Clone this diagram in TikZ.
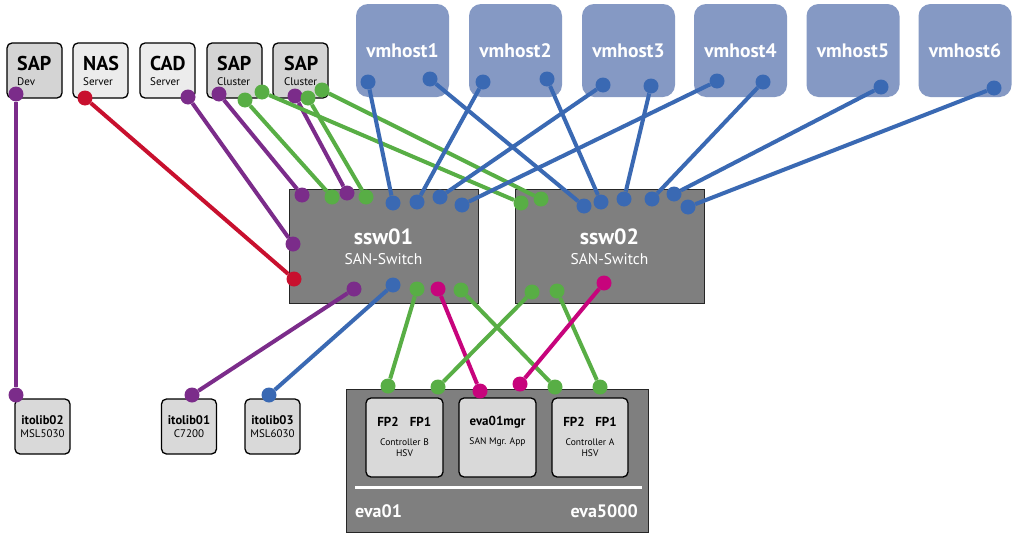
\documentclass[tikz,border=0pt]{standalone}
\usepackage{fontspec}
\setmainfont{PT Sans}
\definecolor{vmblue}{HTML}{8599C4}
\definecolor{swgrey}{HTML}{7F7F7F}
\definecolor{sapgrey}{HTML}{D4D4D4}
\definecolor{srvgrey}{HTML}{ECECEC}
\definecolor{libgrey}{HTML}{D9D9D9}
\definecolor{cpurple}{HTML}{7B2C8A}
\definecolor{cred}{HTML}{C8102E}
\definecolor{cgreen}{HTML}{58AE45}
\definecolor{cblue}{HTML}{3A69B3}
\definecolor{cmag}{HTML}{C7047C}
\begin{document}
\begin{tikzpicture}[x=1pt,y=-1pt,
  smallbox/.style={draw=black, line width=1.3pt, rounded corners=5pt, fill=#1, minimum width=55pt, minimum height=55pt, inner sep=0pt},
  vmbox/.style={fill=vmblue, rounded corners=12pt, minimum width=93pt, minimum height=93pt, inner sep=0pt, text=white, font=\fontsize{19.5}{21}\selectfont\bfseries},
  switchbox/.style={draw=black!85, line width=1pt, fill=swgrey, inner sep=0pt},
  dot/.style={circle, fill=#1, minimum size=15pt, inner sep=0pt},
  wire/.style={line width=4pt, draw=#1},
  bigtxt/.style={font=\fontsize{20}{22}\selectfont\bfseries, inner sep=0pt, anchor=base west},
  subtxt/.style={font=\fontsize{11}{12}\selectfont, inner sep=0pt, anchor=base west},
  libtitle/.style={font=\fontsize{12.5}{14}\selectfont\bfseries, inner sep=0pt},
  libsub/.style={font=\fontsize{11}{12}\selectfont, inner sep=0pt},
  evasmall/.style={font=\fontsize{9.5}{11}\selectfont, inner sep=0pt},
  evabold/.style={font=\fontsize{13}{14}\selectfont\bfseries, inner sep=0pt},
  evabig/.style={font=\fontsize{18}{20}\selectfont\bfseries, text=white, inner sep=0pt},
  swtitle/.style={font=\fontsize{22}{24}\selectfont\bfseries, text=white, inner sep=0pt},
  swsub/.style={font=\fontsize{15.5}{17}\selectfont, text=white, inner sep=0pt},
]
\useasboundingbox (0,0) rectangle (1013,533);
\fill[white] (0,0) rectangle (1013,533);

% top small boxes
\node[smallbox=sapgrey] (sapdev) at (34.5,70.5) {};
\node[smallbox=srvgrey] (nas) at (100.5,70.5) {};
\node[smallbox=srvgrey] (cad) at (167.5,70.5) {};
\node[smallbox=sapgrey] (sapc1) at (234.5,70.5) {};
\node[smallbox=sapgrey] (sapc2) at (300.5,70.5) {};
\node[bigtxt] (t1) at (17,70) {SAP};
\node[subtxt] (t1s) at (17,85) {Dev};
\node[bigtxt] (t2) at (83,70) {NAS};
\node[subtxt] (t2s) at (83,85) {Server};
\node[bigtxt] (t3) at (150,70) {CAD};
\node[subtxt] (t3s) at (150,85) {Server};
\node[bigtxt] (t4) at (217,70) {SAP};
\node[subtxt] (t4s) at (217,85) {Cluster};
\node[bigtxt] (t5) at (284,70) {SAP};
\node[subtxt] (t5s) at (284,85) {Cluster};

% vmhosts
\node[vmbox] (vm1) at (402.5,50.5) {vmhost1};
\node[vmbox] (vm2) at (515.5,50.5) {vmhost2};
\node[vmbox] (vm3) at (628.5,50.5) {vmhost3};
\node[vmbox] (vm4) at (740.5,50.5) {vmhost4};
\node[vmbox] (vm5) at (853,50.5) {vmhost5};
\node[vmbox] (vm6) at (965,50.5) {vmhost6};

% switches
\node[switchbox, minimum width=189pt, minimum height=114pt] (ssw01) at (383.5,246) {};
\node[switchbox, minimum width=189pt, minimum height=114pt] (ssw02) at (609.5,246) {};
\node[swtitle] (s1t) at (383.5,237) {ssw01};
\node[swsub] (s1s) at (383.5,259) {SAN-Switch};
\node[swtitle] (s2t) at (609.5,237) {ssw02};
\node[swsub] (s2s) at (609.5,259) {SAN-Switch};

% eva
\node[switchbox, minimum width=302pt, minimum height=143pt] (eva) at (497,460.5) {};
\node[smallbox=libgrey, minimum width=77pt, minimum height=79pt] (ctrlB) at (404.5,437.5) {};
\node[smallbox=libgrey, minimum width=77pt, minimum height=79pt] (mgr) at (497.5,437.5) {};
\node[smallbox=libgrey, minimum width=76pt, minimum height=79pt] (ctrlA) at (590,437.5) {};
\draw[white, line width=3pt] (355,487) -- (642,487);
\node[evabold] (bfp2) at (388,422) {FP2};
\node[evabold] (bfp1) at (420.5,422) {FP1};
\node[evasmall] (bc) at (404.5,442) {Controller B};
\node[evasmall] (bh) at (404.5,453) {HSV};
\node[evabold] (mt) at (497.5,422) {eva01mgr};
\node[evasmall] (ms) at (497.5,442) {SAN Mgr. App};
\node[evabold] (afp2) at (574,422) {FP2};
\node[evabold] (afp1) at (606,422) {FP1};
\node[evasmall] (ac) at (590,442) {Controller A};
\node[evasmall] (ah) at (590,453) {HSV};
\node[evabig, anchor=west] (evn) at (355,511) {eva01};
\node[evabig, anchor=east] (evt) at (638,511) {eva5000};

% itolib boxes
\node[smallbox=libgrey] (itb02) at (42.5,426.5) {};
\node[smallbox=libgrey] (itb01) at (189,426.5) {};
\node[smallbox=libgrey] (itb03) at (272.5,426.5) {};
\node[libtitle] (l2) at (42.5,420) {itolib02};
\node[libsub] (l2s) at (42.5,434) {MSL5030};
\node[libtitle] (l1) at (189,420) {itolib01};
\node[libsub] (l1s) at (189,434) {C7200};
\node[libtitle] (l3) at (272.5,420) {itolib03};
\node[libsub] (l3s) at (272.5,434) {MSL6030};

% dots: top boxes
\node[dot=cpurple] (dDev) at (16,94) {};
\node[dot=cred] (dNas) at (85,98) {};
\node[dot=cpurple] (dCad) at (188,97) {};
\node[dot=cpurple] (dC1p) at (219,94) {};
\node[dot=cgreen] (dC1g1) at (245,100) {};
\node[dot=cgreen] (dC1g2) at (262,92) {};
\node[dot=cpurple] (dC2p) at (295,96) {};
\node[dot=cgreen] (dC2g1) at (308,98) {};
\node[dot=cgreen] (dC2g2) at (322,90) {};
% dots: vmhosts
\node[dot=cblue] (v1a) at (368,82) {};
\node[dot=cblue] (v1b) at (430,79) {};
\node[dot=cblue] (v2a) at (483,82) {};
\node[dot=cblue] (v2b) at (547,79) {};
\node[dot=cblue] (v3a) at (603,85) {};
\node[dot=cblue] (v3b) at (651,86) {};
\node[dot=cblue] (v4a) at (717,81) {};
\node[dot=cblue] (v4b) at (763,82) {};
\node[dot=cblue] (v5a) at (881,87) {};
\node[dot=cblue] (v6a) at (994,88) {};
% dots: ssw01
\node[dot=cpurple] (a1) at (302,195) {};
\node[dot=cgreen] (a2) at (332,197) {};
\node[dot=cpurple] (a3) at (347,193) {};
\node[dot=cgreen] (a4) at (366,197) {};
\node[dot=cblue] (a5) at (393,203) {};
\node[dot=cblue] (a6) at (417,202) {};
\node[dot=cblue] (a7) at (440,197) {};
\node[dot=cblue] (a8) at (462,205) {};
\node[dot=cpurple] (aL1) at (293,244) {};
\node[dot=cred] (aL2) at (294,279) {};
\node[dot=cpurple] (aB1) at (354,289) {};
\node[dot=cblue] (aB2) at (393,285) {};
\node[dot=cgreen] (aB3) at (417,289) {};
\node[dot=cmag] (aB4) at (438,289) {};
\node[dot=cgreen] (aB5) at (461,290) {};
% dots: ssw02
\node[dot=cgreen] (b1) at (521,203) {};
\node[dot=cgreen] (b2) at (541,199) {};
\node[dot=cblue] (b3) at (584,206) {};
\node[dot=cblue] (b4) at (601,202) {};
\node[dot=cblue] (b5) at (624,199) {};
\node[dot=cblue] (b6) at (652,199) {};
\node[dot=cblue] (b7) at (674,194) {};
\node[dot=cblue] (b8) at (688,207) {};
\node[dot=cgreen] (bB1) at (532,292) {};
\node[dot=cgreen] (bB2) at (557,291) {};
\node[dot=cmag] (bB3) at (604,283) {};
% dots: eva
\node[dot=cgreen] (e1) at (388,386) {};
\node[dot=cgreen] (e2) at (438,387) {};
\node[dot=cmag] (e3) at (480,391) {};
\node[dot=cmag] (e4) at (520,384) {};
\node[dot=cgreen] (e5) at (555,387) {};
\node[dot=cgreen] (e6) at (600,387) {};
% dots: itolib
\node[dot=cpurple] (i2) at (16,395) {};
\node[dot=cpurple] (i1) at (192,395) {};
\node[dot=cblue] (i3) at (269,395) {};

% wires
\draw[wire=cpurple] (dDev) -- (i2);
\draw[wire=cpurple] (dCad) -- (aL1);
\draw[wire=cpurple] (dC1p) -- (a1);
\draw[wire=cpurple] (dC2p) -- (a3);
\draw[wire=cpurple] (i1) -- (aB1);
\draw[wire=cred] (dNas) -- (aL2);
\draw[wire=cgreen] (dC1g1) -- (a2);
\draw[wire=cgreen] (dC1g2) -- (b1);
\draw[wire=cgreen] (dC2g1) -- (a4);
\draw[wire=cgreen] (dC2g2) -- (b2);
\draw[wire=cblue] (v1a) -- (a5);
\draw[wire=cblue] (v1b) -- (b3);
\draw[wire=cblue] (v2a) -- (a6);
\draw[wire=cblue] (v2b) -- (b4);
\draw[wire=cblue] (v3a) -- (a7);
\draw[wire=cblue] (v3b) -- (b5);
\draw[wire=cblue] (v4a) -- (a8);
\draw[wire=cblue] (v4b) -- (b6);
\draw[wire=cblue] (v5a) -- (b7);
\draw[wire=cblue] (v6a) -- (b8);
\draw[wire=cblue] (aB2) -- (i3);
\draw[wire=cgreen] (aB3) -- (e1);
\draw[wire=cmag] (aB4) -- (e3);
\draw[wire=cgreen] (aB5) -- (e5);
\draw[wire=cgreen] (bB1) -- (e2);
\draw[wire=cgreen] (bB2) -- (e6);
\draw[wire=cmag] (bB3) -- (e4);
\end{tikzpicture}
\end{document}
